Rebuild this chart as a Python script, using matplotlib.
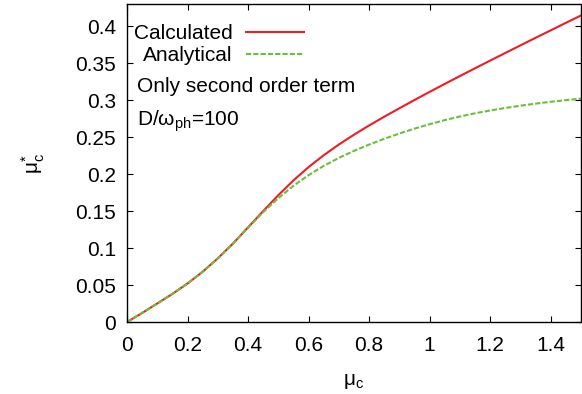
import matplotlib.pyplot as plt
from matplotlib.ticker import FuncFormatter

plt.rcParams["font.family"] = ["Liberation Sans", "DejaVu Sans"]
plt.rcParams["mathtext.fontset"] = "custom"
plt.rcParams["mathtext.rm"] = "Liberation Sans"
plt.rcParams["mathtext.it"] = "Liberation Sans:italic"

# mu_c values (x axis)
MU_C = [0.0, 0.05, 0.1, 0.15, 0.2, 0.25, 0.3, 0.35, 0.4, 0.45,
        0.5, 0.55, 0.6, 0.65, 0.7, 0.75, 0.8, 0.85, 0.9, 0.95,
        1.0, 1.05, 1.1, 1.15, 1.2, 1.25, 1.3, 1.35, 1.4, 1.45, 1.5]

# mu_c^* calculated (red solid)
CALCULATED = [0.0, 0.0122, 0.025, 0.038, 0.052, 0.068, 0.086, 0.106, 0.128, 0.150,
              0.1715, 0.1915, 0.2095, 0.2255, 0.240, 0.2533, 0.2658, 0.2776, 0.289, 0.3002,
              0.3112, 0.322, 0.3326, 0.3431, 0.3535, 0.3638, 0.3741, 0.3843, 0.3944, 0.4045, 0.4145]

# mu_c^* analytical (green dashed)
ANALYTICAL = [0.0, 0.0122, 0.025, 0.038, 0.052, 0.068, 0.086, 0.106, 0.1275, 0.1485,
              0.1675, 0.1842, 0.1986, 0.2111, 0.2219, 0.2314, 0.2399, 0.2477, 0.2549, 0.2615,
              0.2675, 0.273, 0.2779, 0.2822, 0.286, 0.2894, 0.2925, 0.2953, 0.2978, 0.300, 0.302]

X_TICKS = [0, 0.2, 0.4, 0.6, 0.8, 1.0, 1.2, 1.4]
Y_TICKS = [0, 0.05, 0.1, 0.15, 0.2, 0.25, 0.3, 0.35, 0.4]

RED = "#ee1c24"
GREEN = "#6cbf3c"
FS = 15

fig = plt.figure(figsize=(5.82, 3.94), dpi=100)
ax = fig.add_axes([127 / 582, 72 / 394, 454 / 582, 318 / 394])

ax.plot(MU_C, CALCULATED, color=RED, lw=1.5, label="Calculated")
ax.plot(MU_C, ANALYTICAL, color=GREEN, lw=1.5, dashes=(2.5, 1), label="Analytical")

ax.set_xlim(0, 1.5)
ax.set_ylim(0, 0.43)
ax.set_xticks(X_TICKS)
ax.set_yticks(Y_TICKS)
ax.xaxis.set_major_formatter(FuncFormatter(lambda v, p: f"{v:g}"))
ax.yaxis.set_major_formatter(FuncFormatter(lambda v, p: f"{v:g}"))
ax.tick_params(direction="in", length=4.5, width=0.8, top=True, right=True,
               labelsize=FS)
ax.tick_params(axis="x", pad=10)
ax.tick_params(axis="y", pad=8)
for s in ax.spines.values():
    s.set_linewidth(1.0)

ax.set_xlabel("μ$_{\\mathregular{c}}$", fontsize=FS, labelpad=12)
ax.set_ylabel("μ$_{\\mathregular{c}}^{*}$", fontsize=FS, labelpad=20)

ax.legend(loc="upper left", frameon=False, fontsize=FS, markerfirst=False,
          alignment="right", handlelength=2.75, handletextpad=0.65,
          labelspacing=0.15, borderaxespad=0.0, borderpad=0.3,
          bbox_to_anchor=(0.002, 0.957))

ax.text(0.022, 0.742, "Only second order term", transform=ax.transAxes,
        fontsize=FS, va="center", ha="left")
ax.text(0.022, 0.632, "D/ω$_{\\mathregular{ph}}$=100", transform=ax.transAxes,
        fontsize=FS, va="center", ha="left")

fig.savefig("out.png", dpi=100)
